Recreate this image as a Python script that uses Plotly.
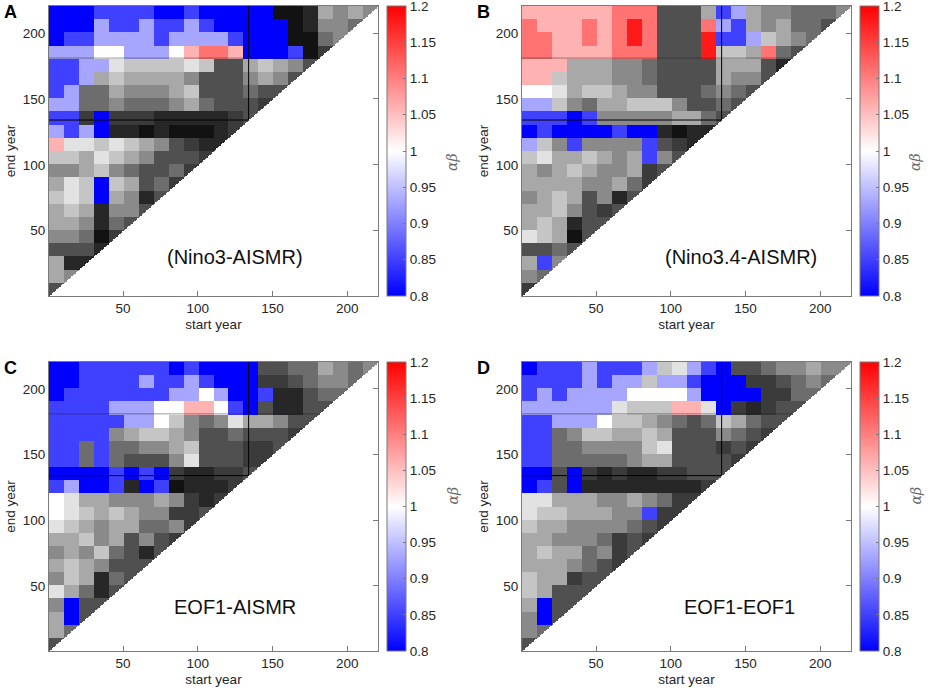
import numpy as np
import plotly.graph_objects as go

W, H = 934, 691

years = np.arange(1, 221)
block = 10          # the picture is read in 10-year bands of start / end year
mark_year = 134     # thin black cross line
split_year = 181    # faint horizontal line

# letters -> alpha*beta of the significant windows
colour_values = {"B": 0.80, "b": 0.85, "c": 0.93, "s": 1.06, "r": 1.11, "R": 1.18}
# digits 0 (black) .. 9 (white) -> grey shade of the windows that are not significant

# one string per band of end years (top band first), one character per band of start years
nino3_aismr = [
    "BBBbbbbBBbBBBBB0016565",
    "BBBcbbcbbcbBBBBB01554",
    "BbbccccbccccbBBB0045",
    "ccc99ccc9srrsBBBb02",
    "bbcc87777873367653",
    "bbc67666653335653",
    "bc44655567333433",
    "cc4454445643332",
    "bb2B2221111123",
    "cbcB110100012",
    "s88787653211",
    "77687653332",
    "5567543342",
    "687B76342",
    "787B6513",
    "6761553",
    "665143",
    "55402",
    "3331",
    "611",
    "65",
    "3",
]

nino34_aismr = [
    "ssssssrrr3336bc6554445",
    "rsssrsrRr333rcb656443",
    "rrssrsrRr333Rbbc7654",
    "rrssssrrr333R776r43",
    "sss666554333366631",
    "ss766655433336553",
    "9986776553334543",
    "cc7546677753343",
    "bbbBb555556643",
    "BbBBBBbBB1011",
    "c75b5555b321",
    "78667656b53",
    "6567655623",
    "666655642",
    "56763513",
    "6675323",
    "676133",
    "87603",
    "3343",
    "6b5",
    "54",
    "2",
]

eof1_aismr = [
    "BBbbbbbbBbBBBB33446545",
    "BBbbbbcbbcbBBB2234554",
    "Bbbbbbbbcc9cBBb11344",
    "bbbbccc99ss9bB31133",
    "bbbbbcc97545866533",
    "bbbb5677653343332",
    "bb4b445567333223",
    "bb4b43335833322",
    "BBBBbBbB211223",
    "bcBBb1Bb01112",
    "986655565212",
    "98767655223",
    "8765664452",
    "667563532",
    "56574313",
    "6765333",
    "576143",
    "86413",
    "5B33",
    "6B3",
    "64",
    "3",
]

eof1_eof1 = [
    "Bbbbcbbbc78cbB33455655",
    "bbbbcbcc7ccbBBB223454",
    "bcbcccc9999cBBBB2244",
    "cccccc8777ss8B21233",
    "bbccc9776543476433",
    "bb457766763335432",
    "bb44555578333232",
    "bb4444456633332",
    "BB3B2121122333",
    "Bb3B111111112",
    "886665565422",
    "87766655b22",
    "7665555432",
    "665554232",
    "67664523",
    "6665432",
    "766233",
    "76333",
    "6B33",
    "5B3",
    "54",
    "3",
]

panel_letters = ["A", "B", "C", "D"]
panel_names = ["(Nino3-AISMR)", "(Nino3.4-AISMR)", "EOF1-AISMR", "EOF1-EOF1"]
panel_data = [nino3_aismr, nino34_aismr, eof1_aismr, eof1_eof1]

axis_ticks = [50, 100, 150, 200]
cb_ticks = [0.8, 0.85, 0.9, 0.95, 1.0, 1.05, 1.1, 1.15, 1.2]
cb_labels = ["0.8", "0.85", "0.9", "0.95", "1", "1.05", "1.1", "1.15", "1.2"]


def expand(rows):
    n = len(years)
    alpha = np.full((n, n), np.nan)
    grey = np.full((n, n), np.nan)
    for k, row in enumerate(rows):
        j = len(rows) - 1 - k
        ys = slice(j * block, (j + 1) * block)
        for i, ch in enumerate(row):
            xs = slice(i * block, (i + 1) * block)
            if ch in colour_values:
                alpha[ys, xs] = colour_values[ch]
            else:
                grey[ys, xs] = int(ch)
    # windows must end after they start
    below = years[None, :] > years[:, None]
    alpha[below] = np.nan
    grey[below] = np.nan
    return alpha, grey


FONT = "Liberation Sans, Arial, Helvetica, sans-serif"
TXT = "#262626"
FRAME = "#7a7a7a"

bwr = [[0, "rgb(0,0,255)"], [0.5, "rgb(255,255,255)"], [1, "rgb(255,0,0)"]]
greys = [[0, "rgb(18,18,18)"], [1 / 3, "rgb(80,80,80)"], [1, "rgb(255,255,255)"]]

# pixel boxes of the four plot areas: left, right, top, bottom
boxes = [(49, 378, 6, 296), (522, 851, 6, 296), (49, 378, 362, 651), (522, 851, 362, 651)]
label_pos = [(125, 30), (147, 30), (125, 34), (146, 34)]

fig = go.Figure()
layout = {}
annotations = []
shapes = []

for p, (rows, letter, name) in enumerate(zip(panel_data, panel_letters, panel_names)):
    l, r, t, b = boxes[p]
    sfx = "" if p == 0 else str(p + 1)
    xa, ya = "x" + sfx, "y" + sfx
    alpha, grey = expand(rows)

    fig.add_trace(go.Heatmap(
        x=years, y=years, z=grey, colorscale=greys, zmin=0, zmax=9,
        showscale=False, hoverinfo="skip", xaxis=xa, yaxis=ya,
    ))
    fig.add_trace(go.Heatmap(
        x=years, y=years, z=alpha, colorscale=bwr, zmin=0.8, zmax=1.2,
        xaxis=xa, yaxis=ya,
        colorbar=dict(
            x=(r + 9) / W, xanchor="left", xpad=0,
            y=1 - (t + b) / 2 / H, yanchor="middle", ypad=0,
            len=(b - t) / H, lenmode="fraction",
            thickness=19, thicknessmode="pixels",
            outlinewidth=1, outlinecolor=FRAME,
            tickvals=cb_ticks, ticktext=cb_labels,
            ticks="inside", ticklen=3, tickcolor=FRAME,
            ticklabeloverflow="allow",
            tickfont=dict(family=FONT, size=13.5, color=TXT),
        ),
    ))

    axis_common = dict(
        range=[0.5, 220.5], tickvals=axis_ticks, ticks="inside", ticklen=5,
        tickcolor=FRAME, linecolor=FRAME, linewidth=1, mirror="ticks",
        showgrid=False, zeroline=False, layer="below traces",
        tickfont=dict(family=FONT, size=13.5, color=TXT), automargin=False,
    )
    layout["xaxis" + sfx] = dict(
        axis_common, domain=[l / W, r / W], anchor=ya,
        title=dict(text="start year", standoff=4, font=dict(family=FONT, size=13.5, color=TXT)),
    )
    layout["yaxis" + sfx] = dict(
        axis_common, domain=[1 - b / H, 1 - t / H], anchor=xa,
        title=dict(text="end year", standoff=4, font=dict(family=FONT, size=13.5, color=TXT)),
    )

    lx, ly = label_pos[p]
    annotations.append(dict(
        x=lx, y=ly, xref=xa, yref=ya, text=name, showarrow=False,
        font=dict(family=FONT, size=20, color="#111111"),
    ))
    annotations.append(dict(
        x=(l - 39) / W, y=1 - (t + 6) / H, xref="paper", yref="paper",
        text="<b>%s</b>" % letter, showarrow=False, xanchor="center", yanchor="middle",
        font=dict(family=FONT, size=18, color="#000000"),
    ))
    annotations.append(dict(
        x=(r + 74) / W, y=1 - (t + b) / 2 / H, xref="paper", yref="paper",
        text="<i>αβ</i>", textangle=-90, showarrow=False,
        font=dict(family="DejaVu Serif, serif", size=14, color="#666666"),
    ))

    shapes.append(dict(type="line", xref=xa, yref=ya, x0=0.5, x1=mark_year,
                       y0=mark_year, y1=mark_year, line=dict(color="black", width=1)))
    shapes.append(dict(type="line", xref=xa, yref=ya, x0=mark_year, x1=mark_year,
                       y0=mark_year, y1=220.5, line=dict(color="black", width=1)))
    shapes.append(dict(type="line", xref=xa, yref=ya, x0=0.5, x1=split_year,
                       y0=split_year, y1=split_year,
                       line=dict(color="rgba(30,30,30,0.45)", width=1)))

fig.update_layout(
    width=W, height=H,
    margin=dict(l=0, r=0, t=0, b=0, autoexpand=False),
    paper_bgcolor="white", plot_bgcolor="white",
    showlegend=False,
    annotations=annotations, shapes=shapes,
    **layout,
)

# the page body has a default 8px margin; drop it so the figure sits at the window corner
fig.write_html("out.html", config={"displayModeBar": False},
               post_script="document.body.style.margin='0';")
